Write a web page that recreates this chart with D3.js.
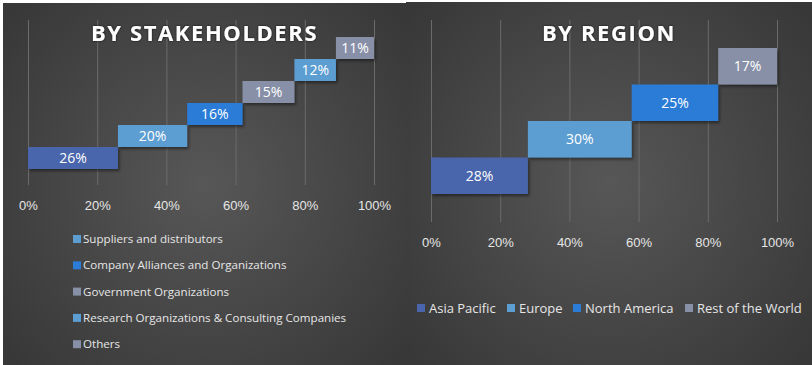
<!DOCTYPE html>
<html>
<head>
<meta charset="utf-8">
<script src="https://cdn.jsdelivr.net/npm/d3@7"></script>
<style>
  html, body { margin: 0; padding: 0; background: #fff; }
  svg { display: block; font-family: 'Open Sans', 'DejaVu Sans', sans-serif; }
  .tick line { stroke: #6b6b6b; }
  .tick text { fill: #e6e6e6; font-size: 13px; }
</style>
</head>
<body>
<svg id="chart" width="812" height="365"></svg>
<script>
// data
const stakeholderNames = ['', 'Suppliers and distributors', 'Company Alliances and Organizations',
  'Government Organizations', 'Research Organizations & Consulting Companies', 'Others']
const stakeholderValues = [26, 20, 16, 15, 12, 11]
const stakeholderColors = ['#4a65ac', '#5c9dd2', '#2b7cd6', '#8890a7', '#5c9dd2', '#8890a7']

const regionNames = ['Asia Pacific', 'Europe', 'North America', 'Rest of the World']
const regionValues = [28, 30, 25, 17]
const regionColors = ['#4a65ac', '#5c9dd2', '#2b7cd6', '#8890a7']

const tickValues = [0, 20, 40, 60, 80, 100]

const $svg = d3.select('#chart')
const defs = $svg.append('defs')

const shadow = defs.append('filter').attr('id', 'barShadow')
  .attr('x', '-10%').attr('y', '-20%').attr('width', '130%').attr('height', '160%')
shadow.append('feDropShadow')
  .attr('dx', 1.5).attr('dy', 2).attr('stdDeviation', 1.5)
  .attr('flood-color', '#000').attr('flood-opacity', 0.45)

const glow = defs.append('filter').attr('id', 'titleGlow')
  .attr('x', '-10%').attr('y', '-30%').attr('width', '120%').attr('height', '160%')
glow.append('feDropShadow')
  .attr('dx', 0).attr('dy', 0).attr('stdDeviation', 1.2)
  .attr('flood-color', '#000').attr('flood-opacity', 0.8)

function panelBg(id, cx, cy){
  const g = defs.append('radialGradient').attr('id', id)
    .attr('gradientUnits', 'userSpaceOnUse')
    .attr('cx', cx).attr('cy', cy).attr('r', 260)
  g.append('stop').attr('offset', '0%').attr('stop-color', '#575757')
  g.append('stop').attr('offset', '100%').attr('stop-color', '#383838')
}

function drawPanel(opts){
  const { x0, y0, w, h, title, names, values, colors } = opts
  panelBg(opts.id + 'Bg', x0 + w / 2, y0 + h / 2)

  $svg.append('rect')
    .attr('x', x0).attr('y', y0).attr('width', w).attr('height', h)
    .attr('fill', `url(#${opts.id}Bg)`)

  const $g = $svg.append('g')

  const scaleX = d3.scaleLinear().domain([0, 100]).range(opts.xRange)
  const scaleY = d3.scaleBand()
    .domain(d3.range(values.length))
    .range(opts.barRange)
    .padding(0)

  // gridlines + tick labels
  const $axis = $g.append('g')
    .attr('transform', `translate(0, ${opts.gridBottom})`)
    .call(d3.axisBottom(scaleX)
      .tickValues(tickValues)
      .tickSize(-(opts.gridBottom - opts.gridTop))
      .tickFormat(d => d + '%'))
  $axis.select('.domain').remove()
  $axis.selectAll('.tick text')
    .attr('y', opts.labelOffset)
    .attr('dy', '0.36em')
    .attr('font-family', null)
    .attr('font-size', null)

  // waterfall bars
  const starts = [0, ...d3.cumsum(values)].slice(0, values.length)
  const bars = values.map((v, i) => ({ v, start: starts[i], color: colors[i], i }))

  const barGroup = $g.selectAll('.bar__group')
    .data(bars)
    .enter()
    .append('g')
    .attr('class', 'bar__group')

  barGroup.append('rect')
    .attr('x', d => scaleX(d.start))
    .attr('y', d => scaleY(d.i))
    .attr('width', d => scaleX(d.start + d.v) - scaleX(d.start))
    .attr('height', scaleY.bandwidth())
    .attr('fill', d => d.color)
    .attr('filter', 'url(#barShadow)')

  barGroup.append('text')
    .attr('x', d => (scaleX(d.start) + scaleX(d.start + d.v)) / 2)
    .attr('y', d => scaleY(d.i) + scaleY.bandwidth() / 2)
    .attr('dy', '0.36em')
    .attr('text-anchor', 'middle')
    .attr('fill', '#fff')
    .style('font-size', '14px')
    .text(d => d.v + '%')

  // title
  $g.append('text')
    .attr('x', x0 + w / 2)
    .attr('y', 41)
    .attr('text-anchor', 'middle')
    .attr('fill', '#fff')
    .attr('filter', 'url(#titleGlow)')
    .style('font-size', '22px')
    .style('font-weight', 700)
    .style('letter-spacing', '1.6px')
    .text(title)

  // legend
  const items = names.map((n, i) => ({ n, color: colors[i] })).filter(d => d.n)
  const $legend = $g.append('g')
  const legendItem = $legend.selectAll('.legend__item')
    .data(items)
    .enter()
    .append('g')
    .attr('class', 'legend__item')
    .attr('transform', (d, i) => `translate(${opts.legendPos(i)[0]}, ${opts.legendPos(i)[1]})`)

  legendItem.append('rect')
    .attr('x', 0).attr('y', -4)
    .attr('width', 8).attr('height', 8)
    .attr('fill', d => d.color)

  legendItem.append('text')
    .attr('x', opts.legendTextGap)
    .attr('y', 0)
    .attr('dy', '0.36em')
    .attr('fill', '#e6e6e6')
    .style('font-size', opts.legendFont)
    .text(d => d.n)
}

drawPanel({
  id: 'stake', x0: 3, y0: 3, w: 403, h: 362,
  title: 'BY STAKEHOLDERS',
  names: stakeholderNames, values: stakeholderValues, colors: stakeholderColors,
  xRange: [28, 374], barRange: [169, 37],
  gridTop: 20, gridBottom: 185, labelOffset: 20,
  legendPos: i => [73, 239 + i * 26.3],
  legendTextGap: 10, legendFont: '11.6px'
})

const regionLegendX = [417, 507, 573, 685]
drawPanel({
  id: 'region', x0: 406, y0: 2, w: 406, h: 363,
  title: 'BY REGION',
  names: regionNames, values: regionValues, colors: regionColors,
  xRange: [431, 777], barRange: [194, 48],
  gridTop: 20, gridBottom: 222, labelOffset: 20,
  legendPos: i => [regionLegendX[i], 308],
  legendTextGap: 12, legendFont: '13px'
})
</script>
</body>
</html>
